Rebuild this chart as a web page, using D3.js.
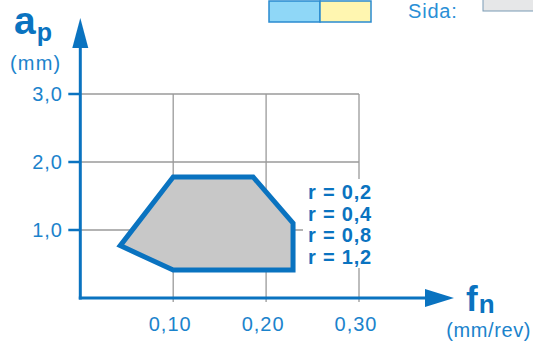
<!DOCTYPE html>
<html>
<head>
<meta charset="utf-8">
<script src="https://cdn.jsdelivr.net/npm/d3@7"></script>
<style>
body { margin: 0; background: #fff; }
svg { display: block; font-family: "Liberation Sans", Arial, sans-serif; }
</style>
</head>
<body>
<svg id="chart"></svg>
<script>
// feed (mm/rev) and depth of cut (mm) of the working area
var feed = [0.043, 0.10, 0.186, 0.229, 0.229, 0.10];
var depth = [0.77, 1.78, 1.78, 1.10, 0.41, 0.41];

var xTicks = [0.1, 0.2, 0.3];
var xTickLabels = ["0,10", "0,20", "0,30"];
var yTicks = [1, 2, 3];
var yTickLabels = ["1,0", "2,0", "3,0"];
var radii = ["r = 0,2", "r = 0,4", "r = 0,8", "r = 1,2"];

var blue = "#0a73c0", textBlue = "#1b83cc", grid = "#9a9a9a";

var width = 533, height = 345;
var svg = d3.select("#chart")
  .attr("width", width)
  .attr("height", height);

var x = d3.scaleLinear().domain([0, 0.3]).range([80.3, 359]);
var y = d3.scaleLinear().domain([0, 3]).range([298, 94]);

// legend boxes at the top
svg.append("rect").attr("x", 269).attr("y", 1).attr("width", 51).attr("height", 21)
  .attr("fill", "#8fd7f7").attr("stroke", "#2a8bd0").attr("stroke-width", 1.5);
svg.append("rect").attr("x", 320).attr("y", 1).attr("width", 51).attr("height", 21)
  .attr("fill", "#fff6b0").attr("stroke", "#2a8bd0").attr("stroke-width", 1.5);
svg.append("text").attr("x", 408).attr("y", 18).text("Sida:")
  .attr("fill", "#2a8fd6").attr("font-size", 20).attr("letter-spacing", 0.8);
svg.append("rect").attr("x", 483).attr("y", -5).attr("width", 60).attr("height", 16)
  .attr("fill", "#e6e7e8").attr("stroke", "#7a9bb5").attr("stroke-width", 1);

// grid
svg.selectAll(".hgrid").data(yTicks).enter().append("line")
  .attr("x1", x(0)).attr("x2", x(0.3))
  .attr("y1", function(d) { return y(d); }).attr("y2", function(d) { return y(d); })
  .attr("stroke", grid).attr("stroke-width", 1.3);
svg.selectAll(".vgrid").data(xTicks).enter().append("line")
  .attr("x1", function(d) { return x(d); }).attr("x2", function(d) { return x(d); })
  .attr("y1", y(3)).attr("y2", y(0) + 4)
  .attr("stroke", grid).attr("stroke-width", 1.3);

// working area
svg.append("polygon")
  .attr("points", feed.map(function(f, i) { return x(f) + "," + y(depth[i]); }).join(" "))
  .attr("fill", "#c8c8c8")
  .attr("stroke", blue)
  .attr("stroke-width", 5)
  .attr("stroke-linejoin", "miter");

// y axis
svg.append("line").attr("x1", x(0)).attr("x2", x(0)).attr("y1", y(0) + 1.5).attr("y2", 46)
  .attr("stroke", blue).attr("stroke-width", 3);
svg.append("path").attr("d", "M" + (x(0) - 8) + ",48L" + x(0) + ",18L" + (x(0) + 8) + ",48Z")
  .attr("fill", blue);
svg.selectAll(".ytick").data(yTicks).enter().append("line")
  .attr("x1", x(0) - 12).attr("x2", x(0))
  .attr("y1", function(d) { return y(d); }).attr("y2", function(d) { return y(d); })
  .attr("stroke", blue).attr("stroke-width", 2.5);
svg.selectAll(".ylab").data(yTicks).enter().append("text")
  .attr("x", 63).attr("y", function(d) { return y(d) + 7; })
  .attr("text-anchor", "end").attr("font-size", 20).attr("letter-spacing", 1).attr("fill", textBlue)
  .text(function(d, i) { return yTickLabels[i]; });

// x axis
svg.append("line").attr("x1", x(0) - 1.5).attr("x2", 427).attr("y1", y(0)).attr("y2", y(0))
  .attr("stroke", blue).attr("stroke-width", 3);
svg.append("path").attr("d", "M425," + (y(0) - 9) + "L454," + y(0) + "L425," + (y(0) + 9) + "Z")
  .attr("fill", blue);
svg.selectAll(".xlab").data(xTicks).enter().append("text")
  .attr("x", function(d) { return x(d) - 3; }).attr("y", 331)
  .attr("text-anchor", "middle").attr("font-size", 20).attr("letter-spacing", 1).attr("fill", textBlue)
  .text(function(d, i) { return xTickLabels[i]; });

// axis titles
var ap = svg.append("text").attr("x", 14).attr("y", 34).attr("fill", blue).attr("font-weight", "bold");
ap.append("tspan").attr("font-size", 39).text("a");
ap.append("tspan").attr("font-size", 25).attr("dy", 7).attr("dx", 1).text("p");
svg.append("text").attr("x", 10).attr("y", 70).attr("font-size", 20).attr("letter-spacing", 1.2)
  .attr("fill", textBlue).text("(mm)");

var fn = svg.append("text").attr("x", 466).attr("y", 311).attr("fill", blue).attr("font-weight", "bold");
fn.append("tspan").attr("font-size", 35).text("f");
fn.append("tspan").attr("font-size", 26).attr("dy", 2).attr("dx", 1).text("n");
svg.append("text").attr("x", 531).attr("y", 337).attr("text-anchor", "end")
  .attr("font-size", 20).attr("letter-spacing", 0.6).attr("fill", textBlue).text("(mm/rev)");

// nose radius labels on a white patch over the grid
svg.append("rect").attr("x", 303).attr("y", 179).attr("width", 73).attr("height", 89).attr("fill", "#fff");
svg.selectAll(".rlab").data(radii).enter().append("text")
  .attr("x", 308).attr("y", function(d, i) { return 199 + i * 21.7; })
  .attr("font-size", 20).attr("font-weight", "bold").attr("letter-spacing", 0.8).attr("fill", blue)
  .text(function(d) { return d; });
</script>
</body>
</html>
